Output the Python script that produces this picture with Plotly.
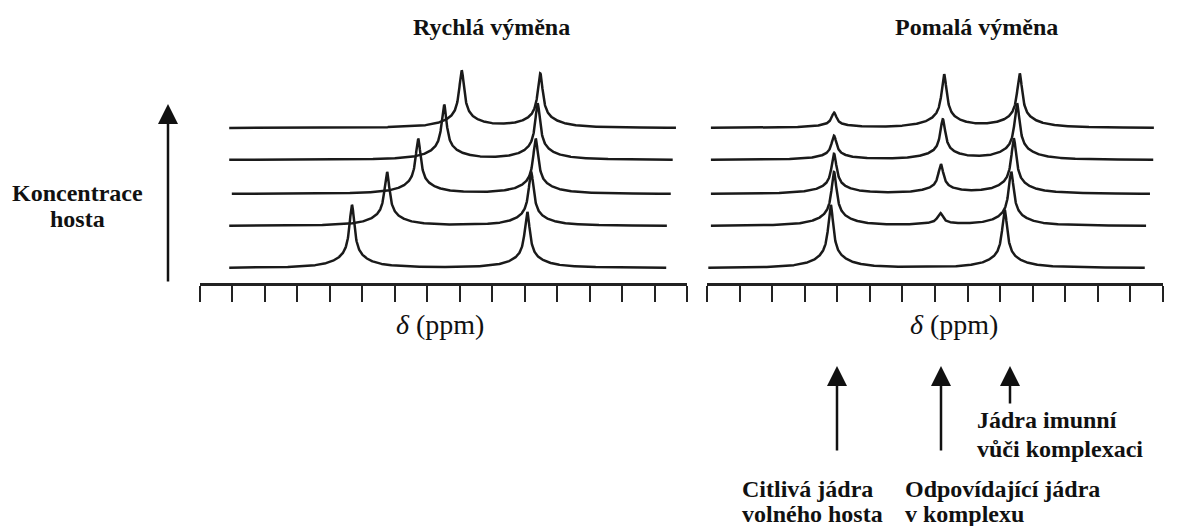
import numpy as np
import plotly.graph_objects as go

# ---------------- data ----------------
# vertical offset of each spectrum baseline (arbitrary intensity units)
LEFT_OFFSETS = [15, 57, 89, 123, 155]
RIGHT_OFFSETS = [15, 57, 89, 123, 155]

# Fast exchange (Rychlá výměna): one averaged sensitive signal that moves, one immune signal
LEFT_SENS_PPM = [5.66, 5.12, 4.64, 4.24, 3.97]
LEFT_SENS_H = [63, 54, 55, 55, 57]
LEFT_IMM_PPM = [2.96, 2.90, 2.83, 2.80, 2.76]
LEFT_IMM_H = [56, 54, 55, 56, 54]
LEFT_START = [7.55, 7.55, 7.51, 7.55, 7.55]
LEFT_END = [0.82, 0.81, 0.75, 0.72, 0.67]

# Slow exchange (Pomalá výměna): free host, complexed host and immune signals
RIGHT_FREE_PPM = [5.60, 5.55, 5.55, 5.55, 5.55]
RIGHT_FREE_H = [63, 54, 40, 24, 15]
RIGHT_CPLX_PPM = [3.92, 3.92, 3.91, 3.88, 3.86]
RIGHT_CPLX_H = [0, 12, 29, 40, 53]
RIGHT_IMM_PPM = [2.93, 2.83, 2.79, 2.74, 2.70]
RIGHT_IMM_H = [58, 54, 55, 56, 54]
RIGHT_START = [7.48, 7.44, 7.44, 7.44, 7.44]
RIGHT_END = [0.78, 0.76, 0.70, 0.65, 0.64]

# axis ranges (ppm, reversed as usual for NMR)
LEFT_RANGE = [8.0, 0.5]
RIGHT_RANGE = [7.5, 0.5]
TICK_STEP = 0.5

# line-shape parameters (ppm): sharp Lorentzian core + broad wings
G_NARROW = 0.046
G_BROAD = 0.277
W_BROAD = 0.2

LINE = "#1a1a1a"


def lineshape(x, pos, h):
    narrow = (1 - W_BROAD) * G_NARROW**2 / ((x - pos) ** 2 + G_NARROW**2)
    broad = W_BROAD * G_BROAD**2 / ((x - pos) ** 2 + G_BROAD**2)
    return h * (narrow + broad)


fig = go.Figure()

for i in range(5):
    x = np.linspace(LEFT_START[i], LEFT_END[i], 1600)
    y = LEFT_OFFSETS[i] + lineshape(x, LEFT_SENS_PPM[i], LEFT_SENS_H[i]) + \
        lineshape(x, LEFT_IMM_PPM[i], LEFT_IMM_H[i])
    fig.add_trace(go.Scatter(x=x, y=y, mode="lines", xaxis="x", yaxis="y",
                             line=dict(color=LINE, width=2.5), hoverinfo="skip"))

for i in range(5):
    x = np.linspace(RIGHT_START[i], RIGHT_END[i], 1600)
    y = RIGHT_OFFSETS[i] + lineshape(x, RIGHT_FREE_PPM[i], RIGHT_FREE_H[i]) + \
        lineshape(x, RIGHT_CPLX_PPM[i], RIGHT_CPLX_H[i]) + \
        lineshape(x, RIGHT_IMM_PPM[i], RIGHT_IMM_H[i])
    fig.add_trace(go.Scatter(x=x, y=y, mode="lines", xaxis="x2", yaxis="y",
                             line=dict(color=LINE, width=2.5), hoverinfo="skip"))

W, H = 1190, 526


def px(x):
    return x / W


def py(y):
    return 1 - y / H


axis_style = dict(
    showline=True, linewidth=2.5, linecolor="#222",
    ticks="outside", ticklen=16, tickwidth=2, tickcolor="#222",
    showticklabels=False, showgrid=False, zeroline=False,
    tick0=0.5, dtick=TICK_STEP, anchor="y", fixedrange=True,
)

FONT = "Liberation Serif, Times New Roman, serif"
ann = []


def text(t, x, y, xanchor="center", size=24, bold=True):
    ann.append(dict(
        text=f"<b>{t}</b>" if bold else t, x=px(x), y=py(y),
        xref="paper", yref="paper", xanchor=xanchor, yanchor="middle",
        showarrow=False, font=dict(family=FONT, size=size, color="#111"),
    ))


def arrow(x, ytip, ytail):
    ann.append(dict(
        text="", x=px(x), y=py(ytip), xref="paper", yref="paper",
        ax=0, ay=ytail - ytip, axref="pixel", ayref="pixel",
        showarrow=True, arrowhead=2, arrowsize=1.6, arrowwidth=2.5,
        arrowcolor="#111",
    ))


text("Rychlá výměna", 492, 27)
text("Pomalá výměna", 976, 27)
text("Koncentrace", 77, 193)
text("hosta", 77, 219)
text("<i>δ</i> (ppm)", 440, 324, size=28, bold=False)
text("<i>δ</i> (ppm)", 954, 324, size=28, bold=False)
text("Jádra imunní", 975, 420, xanchor="left")
text("vůči komplexaci", 975, 449, xanchor="left")
text("Citlivá jádra", 740, 489, xanchor="left")
text("volného hosta", 740, 514, xanchor="left")
text("Odpovídající jádra", 903, 489, xanchor="left")
text("v komplexu", 903, 514, xanchor="left")

arrow(168, 104, 283)
arrow(837, 366, 452)
arrow(941, 366, 452)
arrow(1010, 366, 405)

fig.update_layout(
    width=W, height=H, margin=dict(l=0, r=0, t=0, b=0),
    paper_bgcolor="white", plot_bgcolor="white", showlegend=False,
    xaxis=dict(domain=[px(200), px(687)], range=LEFT_RANGE, **axis_style),
    xaxis2=dict(domain=[px(707), px(1163)], range=RIGHT_RANGE, **axis_style),
    yaxis=dict(domain=[py(283), 1], range=[0, 283], visible=False, fixedrange=True),
    annotations=ann,
)

fig.write_html(
    "out.html",
    config={"displayModeBar": False},
    post_script="document.body.style.margin='0';document.body.style.overflow='hidden';",
)
